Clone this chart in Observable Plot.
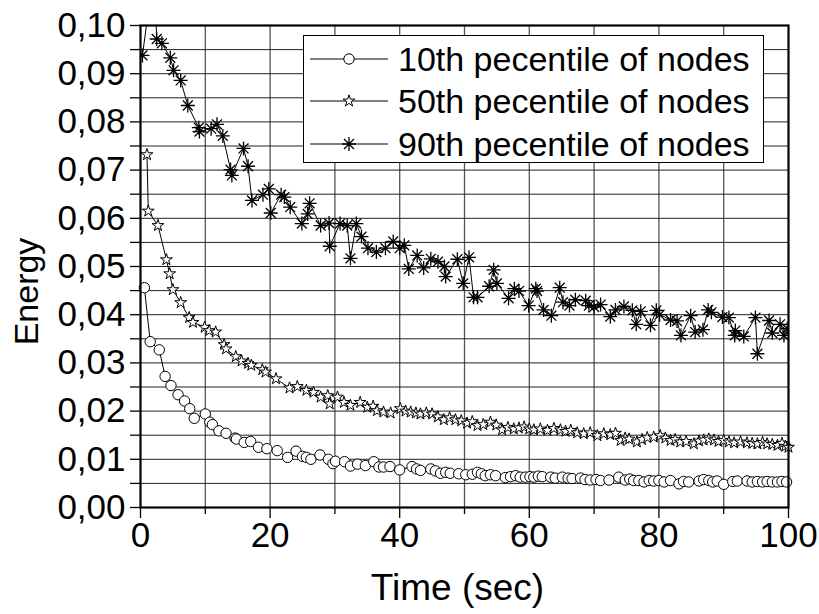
<!DOCTYPE html>
<html><head><meta charset="utf-8">
<script src="https://cdn.jsdelivr.net/npm/d3@7"></script>
<script src="https://cdn.jsdelivr.net/npm/@observablehq/plot@0.6"></script>
<style>
body{margin:0;background:#fff;}
#wrap{position:relative;width:819px;height:614px;font-family:"Liberation Sans",Arial,sans-serif;}
#legend{position:absolute;left:303px;top:35px;width:461px;height:128px;border:1.5px solid #000;background:#fff;box-sizing:border-box;}
#legend .row{position:absolute;left:0;height:40px;width:455px;}
#legend svg{position:absolute;left:0;top:0;}
#legend span{position:absolute;left:94px;top:50%;transform:translateY(-50%);font-size:34px;color:#000;white-space:nowrap;line-height:1;}
</style></head><body><div id="wrap"><div id="legend"></div></div>
<script>
// ---- data ----
const seriesNames = ["10th pecentile of nodes", "50th pecentile of nodes", "90th pecentile of nodes"];

const t10 = [0.6,1.5,2.9,3.8,4.7,5.8,6.8,7.6,8.3,10.0,10.7,11.1,12.1,13.2,14.6,14.8,16.0,17.0,18.2,19.5,21.1,22.7,24.0,25.0,25.6,26.3,27.7,29.0,29.7,30.1,31.5,32.4,33.5,34.7,36.0,36.8,37.5,38.5,40.0,41.9,42.6,43.2,44.8,45.5,46.3,47.1,47.8,49.1,50.2,51.2,52.0,52.6,53.2,54.0,54.8,56.3,57.1,57.9,58.6,59.4,60.1,60.7,61.4,62.0,63.3,64.0,65.1,66.0,66.6,67.9,68.6,69.4,70.3,71.0,72.3,73.8,74.8,75.5,76.1,76.9,77.7,78.5,79.2,80.0,80.8,81.8,83.1,83.8,84.6,86.2,86.9,87.7,88.3,89.0,90.0,91.4,92.1,93.6,94.4,95.2,96.0,96.7,97.5,98.3,99.0,99.7];
const e10 = [0.0456,0.0344,0.0327,0.0272,0.0253,0.0234,0.0221,0.0205,0.0185,0.0194,0.0177,0.0172,0.0159,0.0154,0.0144,0.0142,0.0135,0.0137,0.0125,0.0122,0.0118,0.0104,0.0117,0.0106,0.0104,0.0100,0.0109,0.0100,0.0091,0.0096,0.0095,0.0086,0.0090,0.0087,0.0095,0.0084,0.0084,0.0085,0.0078,0.0085,0.0080,0.0077,0.0080,0.0076,0.0071,0.0073,0.0071,0.0070,0.0068,0.0069,0.0073,0.0070,0.0066,0.0068,0.0066,0.0062,0.0064,0.0066,0.0063,0.0063,0.0064,0.0063,0.0065,0.0064,0.0063,0.0061,0.0063,0.0061,0.0060,0.0061,0.0058,0.0057,0.0058,0.0056,0.0057,0.0063,0.0057,0.0059,0.0056,0.0056,0.0053,0.0056,0.0055,0.0056,0.0053,0.0056,0.0049,0.0054,0.0053,0.0055,0.0058,0.0056,0.0053,0.0055,0.0048,0.0054,0.0055,0.0055,0.0053,0.0054,0.0053,0.0054,0.0053,0.0053,0.0054,0.0053];

const t50 = [1.0,1.2,2.7,4.0,4.5,5.0,6.2,7.5,8.1,9.9,10.6,11.6,12.9,13.2,14.7,15.6,16.6,17.1,18.8,19.3,20.9,23.0,24.2,25.6,26.7,27.8,28.9,29.2,30.4,31.4,32.4,33.9,35.0,35.9,36.5,37.5,38.6,40.1,40.9,41.7,42.5,43.2,44.1,45.0,45.9,46.8,47.7,48.6,49.5,50.4,51.2,52.0,52.9,54.0,54.9,55.8,56.7,57.6,58.4,59.2,60.0,60.7,61.7,62.8,63.8,64.8,65.6,66.4,67.4,68.4,69.4,70.5,71.5,72.5,73.3,74.1,74.8,75.4,76.6,77.4,78.2,79.2,80.2,81.0,81.8,82.5,83.3,84.2,85.4,86.2,86.9,87.7,88.5,89.2,90.0,90.8,91.6,92.6,93.6,94.4,95.2,96.0,96.7,97.5,98.3,99.0,99.5,100.0];
const e50 = [0.0732,0.0615,0.0585,0.0514,0.0485,0.0452,0.0425,0.0394,0.0384,0.0374,0.0367,0.0364,0.0338,0.0329,0.0313,0.0304,0.0299,0.0295,0.0286,0.0281,0.0267,0.0248,0.0251,0.0243,0.0239,0.0229,0.0232,0.0215,0.0229,0.0218,0.0212,0.0218,0.0208,0.0210,0.0201,0.0198,0.0196,0.0205,0.0200,0.0198,0.0196,0.0194,0.0196,0.0194,0.0188,0.0182,0.0186,0.0182,0.0180,0.0175,0.0178,0.0170,0.0172,0.0177,0.0171,0.0161,0.0166,0.0163,0.0165,0.0167,0.0163,0.0161,0.0163,0.0160,0.0164,0.0161,0.0158,0.0160,0.0155,0.0153,0.0155,0.0149,0.0153,0.0151,0.0154,0.0139,0.0144,0.0142,0.0136,0.0141,0.0145,0.0146,0.0149,0.0144,0.0139,0.0141,0.0136,0.0137,0.0132,0.0138,0.0140,0.0142,0.0140,0.0137,0.0139,0.0136,0.0134,0.0136,0.0134,0.0133,0.0132,0.0135,0.0132,0.0131,0.0129,0.0133,0.0127,0.0125];

const t90 = [0.3,2.1,2.5,3.3,4.6,5.1,6.2,7.3,9.0,9.1,10.9,11.8,12.7,13.9,14.1,15.9,16.6,17.2,18.9,19.8,20.1,21.7,22.2,23.1,24.9,25.8,26.1,27.8,29.1,29.2,30.8,31.9,32.4,33.3,34.1,35.1,36.4,37.8,39.0,40.0,40.7,41.4,42.7,43.7,44.8,45.9,46.9,47.1,48.9,49.8,50.7,51.4,52.0,53.8,54.5,55.0,56.8,57.7,58.4,59.9,61.0,61.2,62.2,63.4,64.7,65.2,66.2,67.1,68.7,69.2,70.0,71.0,72.5,73.3,74.6,75.9,76.5,77.2,78.7,79.6,80.1,81.8,82.8,83.4,84.9,85.6,86.8,87.6,88.1,89.8,90.8,91.7,91.8,93.1,94.9,95.2,97.0,97.5,98.7,99.3,99.8];
const e90 = [0.0938,0.1120,0.0972,0.0963,0.0933,0.0907,0.0886,0.0834,0.0788,0.0780,0.0786,0.0795,0.0771,0.0701,0.0689,0.0745,0.0708,0.0637,0.0649,0.0661,0.0611,0.0649,0.0644,0.0623,0.0589,0.0609,0.0631,0.0585,0.0590,0.0542,0.0589,0.0585,0.0517,0.0589,0.0562,0.0538,0.0530,0.0538,0.0552,0.0538,0.0544,0.0495,0.0523,0.0497,0.0516,0.0510,0.0500,0.0479,0.0515,0.0465,0.0519,0.0436,0.0436,0.0459,0.0493,0.0465,0.0434,0.0454,0.0449,0.0419,0.0454,0.0449,0.0410,0.0398,0.0456,0.0426,0.0419,0.0431,0.0429,0.0419,0.0416,0.0421,0.0396,0.0410,0.0417,0.0409,0.0380,0.0407,0.0378,0.0409,0.0400,0.0389,0.0387,0.0357,0.0398,0.0364,0.0369,0.0410,0.0405,0.0395,0.0394,0.0357,0.0367,0.0355,0.0394,0.0319,0.0388,0.0362,0.0380,0.0357,0.0371];

const xMajorTicks = [0, 20, 40, 60, 80, 100];
const xMinorTicks = [10, 30, 50, 70, 90];
const xGrid = [10, 20, 30, 40, 50, 60, 70, 80, 90];
const yMajorTicks = [0, 0.01, 0.02, 0.03, 0.04, 0.05, 0.06, 0.07, 0.08, 0.09, 0.10];
const yMinorTicks = [0.005, 0.015, 0.025, 0.035, 0.045, 0.055, 0.065, 0.075, 0.085, 0.095];
const yGrid = [0.005,0.01,0.015,0.02,0.025,0.03,0.035,0.04,0.045,0.05,0.055,0.06,0.065,0.07,0.075,0.08,0.085,0.09,0.095];
const xLabel = "Time (sec)";
const yLabel = "Energy";

// ---- build tables ----
const zip = (t, e) => t.map((v, i) => ({t: v, e: e[i]}));
const d10 = zip(t10, e10), d50 = zip(t50, e50), d90 = zip(t90, e90);

const asterisk8 = {
  draw(ctx, size) {
    const r = Math.sqrt(size / Math.PI);
    for (let k = 0; k < 4; k++) {
      const a = k * Math.PI / 4;
      const c = Math.cos(a) * r, s = Math.sin(a) * r;
      ctx.moveTo(c, s); ctx.lineTo(-c, -s);
    }
  }
};

const fmt = d => d3.format(".2f")(d).replace(".", ",");
const FS = 35;

const chart = Plot.plot({
  width: 819, height: 614,
  marginLeft: 140, marginRight: 31, marginTop: 25, marginBottom: 107,
  style: {fontFamily: "'Liberation Sans', Arial, sans-serif", fontSize: FS + "px", background: "#fff", color: "#000"},
  x: {domain: [0, 100]},
  y: {domain: [0, 0.10]},
  marks: [
    Plot.gridX(xGrid, {stroke: "#555", strokeOpacity: 1, strokeWidth: 1.3}),
    Plot.gridY(yGrid, {stroke: "#222", strokeOpacity: 1, strokeWidth: 1}),
    Plot.axisX(xMajorTicks, {tickSize: 11, tickPadding: 4, fontSize: FS, tickFormat: d => String(d), label: null, strokeWidth: 1.3}),
    Plot.axisX(xMinorTicks, {tickSize: 7, text: null, label: null, strokeWidth: 1.3}),
    Plot.axisY(yMajorTicks, {tickSize: 10, tickPadding: 5, fontSize: FS, tickFormat: fmt, label: null, strokeWidth: 1.3}),
    Plot.axisY(yMinorTicks, {tickSize: 10, text: null, label: null, strokeWidth: 1.3}),
    Plot.line(d10, {x: "t", y: "e", stroke: "#000", strokeWidth: 1}),
    Plot.dot(d10, {x: "t", y: "e", symbol: "circle", r: 5.2, fill: "#fff", stroke: "#000", strokeWidth: 1}),
    Plot.line(d50, {x: "t", y: "e", stroke: "#000", strokeWidth: 1}),
    Plot.dot(d50, {x: "t", y: "e", symbol: "star", r: 3.7, fill: "#fff", stroke: "#000", strokeWidth: 1}),
    Plot.line(d90, {x: "t", y: "e", stroke: "#000", strokeWidth: 1, clip: true}),
    Plot.dot(d90, {x: "t", y: "e", symbol: asterisk8, r: 7, fill: "none", stroke: "#000", strokeWidth: 1.3, clip: true}),
    Plot.frame({stroke: "#000", strokeWidth: 2.2}),
    Plot.text([yLabel], {text: d => d, frameAnchor: "left", textAnchor: "middle", dx: -113, dy: 25, rotate: -90, fontSize: 34}),
    Plot.text([xLabel], {text: d => d, frameAnchor: "bottom", dx: -7, dy: 92, fontSize: 37})
  ]
});
document.getElementById("wrap").prepend(chart);

// ---- legend ----
const legend = document.getElementById("legend");
const symbols = [
  d3.symbol(d3.symbolCircle, Math.PI * 5.2 * 5.2)(),
  d3.symbol(d3.symbolStar, Math.PI * 3.7 * 3.7)(),
  (() => { const p = d3.path(); asterisk8.draw(p, Math.PI * 7 * 7); return p.toString(); })()
];
const rowCenters = [23, 65, 108];
seriesNames.forEach((name, i) => {
  const row = document.createElement("div");
  row.className = "row";
  row.style.top = (rowCenters[i] - 20) + "px";
  const svg = d3.create("svg").attr("width", 90).attr("height", 40);
  svg.append("line").attr("x1", 6).attr("x2", 84).attr("y1", 20).attr("y2", 20).attr("stroke", "#000").attr("stroke-width", 1);
  svg.append("path").attr("d", symbols[i]).attr("transform", "translate(45,20)")
    .attr("fill", i === 2 ? "none" : "#fff").attr("stroke", "#000").attr("stroke-width", i === 2 ? 1.3 : 1);
  row.appendChild(svg.node());
  const span = document.createElement("span");
  span.textContent = name;
  row.appendChild(span);
  legend.appendChild(row);
});
</script>
</body></html>
